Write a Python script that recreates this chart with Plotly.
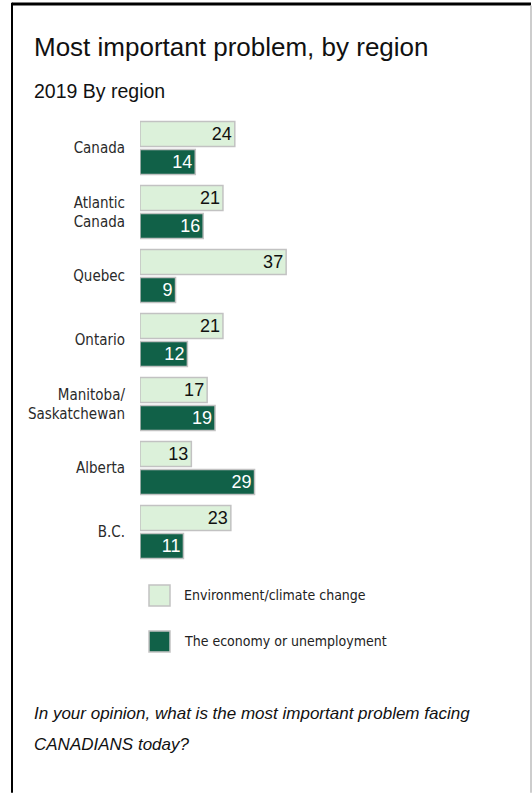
import plotly.graph_objects as go

# ---- data ----
regions = ["Canada", "Atlantic<br>Canada", "Quebec", "Ontario",
           "Manitoba/<br>Saskatchewan", "Alberta", "B.C."]
series_names = ["Environment/climate change", "The economy or unemployment"]
environment = [24, 21, 37, 21, 17, 13, 23]
economy = [14, 16, 9, 12, 19, 29, 11]

title_text = "Most important problem, by region"
subtitle_text = "2019 By region"
question_lines = ["In your opinion, what is the most important problem facing",
                  "CANADIANS today?"]

# ---- style ----
ENV_COLOR = "#dcf1da"
ECO_COLOR = "#116148"
EDGE = "#c2c2c2"
SANS = "Liberation Sans, Arial, sans-serif"
COND = "DejaVu Sans Condensed, DejaVu Sans, sans-serif"

W, H = 532, 793
ML, MR, MT, MB = 140, 234, 115.5, 229
PW, PH = W - ML - MR, H - MT - MB

def xp(px):
    return (px - ML) / PW

def yp(py):
    return 1 - (py - MT) / PH

fig = go.Figure()
fig.add_trace(go.Bar(
    y=regions, x=environment, orientation="h", name=series_names[0],
    marker=dict(color=ENV_COLOR, line=dict(color=EDGE, width=1.5)),
    width=0.39, offset=-0.415,
    text=environment, textposition="inside", insidetextanchor="end",
    constraintext="none", textangle=0,
    textfont=dict(family=SANS, size=18, color="#111111"),
    showlegend=False, hoverinfo="x+y",
))
fig.add_trace(go.Bar(
    y=regions, x=economy, orientation="h", name=series_names[1],
    marker=dict(color=ECO_COLOR, line=dict(color=EDGE, width=1.5)),
    width=0.39, offset=0.025,
    text=economy, textposition="inside", insidetextanchor="end",
    constraintext="none", textangle=0,
    textfont=dict(family=SANS, size=18, color="#ffffff"),
    showlegend=False, hoverinfo="x+y",
))

annotations = [
    dict(text=title_text, x=xp(32), y=yp(46), xref="paper", yref="paper",
         xanchor="left", yanchor="middle", showarrow=False,
         font=dict(family=SANS, size=26, color="#111111")),
    dict(text=subtitle_text, x=xp(32), y=yp(90), xref="paper", yref="paper",
         xanchor="left", yanchor="middle", showarrow=False,
         font=dict(family=SANS, size=19.5, color="#111111")),
]
for i, line in enumerate(question_lines):
    annotations.append(dict(
        text="<i>" + line + "</i>", x=xp(32), y=yp(714 + 31 * i),
        xref="paper", yref="paper", xanchor="left", yanchor="middle",
        showarrow=False, font=dict(family=SANS, size=17, color="#111111")))

shapes = []
legend_colors = [ENV_COLOR, ECO_COLOR]
for i, (nm, col) in enumerate(zip(series_names, legend_colors)):
    top = 585 + 46 * i
    shapes.append(dict(type="rect", xref="paper", yref="paper",
                       x0=xp(149), x1=xp(170), y0=yp(top), y1=yp(top + 21),
                       fillcolor=col, line=dict(color=EDGE, width=1.5)))
    annotations.append(dict(text=nm, x=xp(182), y=yp(top + 10.5),
                            xref="paper", yref="paper", xanchor="left",
                            yanchor="middle", showarrow=False,
                            font=dict(family=COND, size=14, color="#222222")))

# frame
shapes += [
    dict(type="line", xref="paper", yref="paper", x0=xp(12), x1=xp(531),
         y0=yp(3.5), y1=yp(3.5), line=dict(color="#000000", width=3)),
    dict(type="line", xref="paper", yref="paper", x0=xp(12), x1=xp(12),
         y0=yp(2), y1=yp(793), line=dict(color="#000000", width=2)),
    dict(type="line", xref="paper", yref="paper", x0=xp(531), x1=xp(531),
         y0=yp(5), y1=yp(793), line=dict(color="#bdbdbd", width=1.5)),
]

fig.update_layout(
    width=W, height=H, autosize=False,
    margin=dict(l=ML, r=MR, t=MT, b=MB, pad=0),
    paper_bgcolor="white", plot_bgcolor="white",
    barmode="overlay",
    xaxis=dict(range=[0, 40], visible=False, fixedrange=True),
    yaxis=dict(autorange="reversed", showgrid=False, zeroline=False,
               showline=False, ticks="", ticklabelstandoff=14,
               tickfont=dict(family=COND, size=15, color="#2a2a2a"),
               fixedrange=True),
    annotations=annotations, shapes=shapes,
    showlegend=False,
)

fig.write_html("out.html", config={"displayModeBar": False},
               post_script="document.body.style.margin='0';document.body.style.overflow='hidden';")
